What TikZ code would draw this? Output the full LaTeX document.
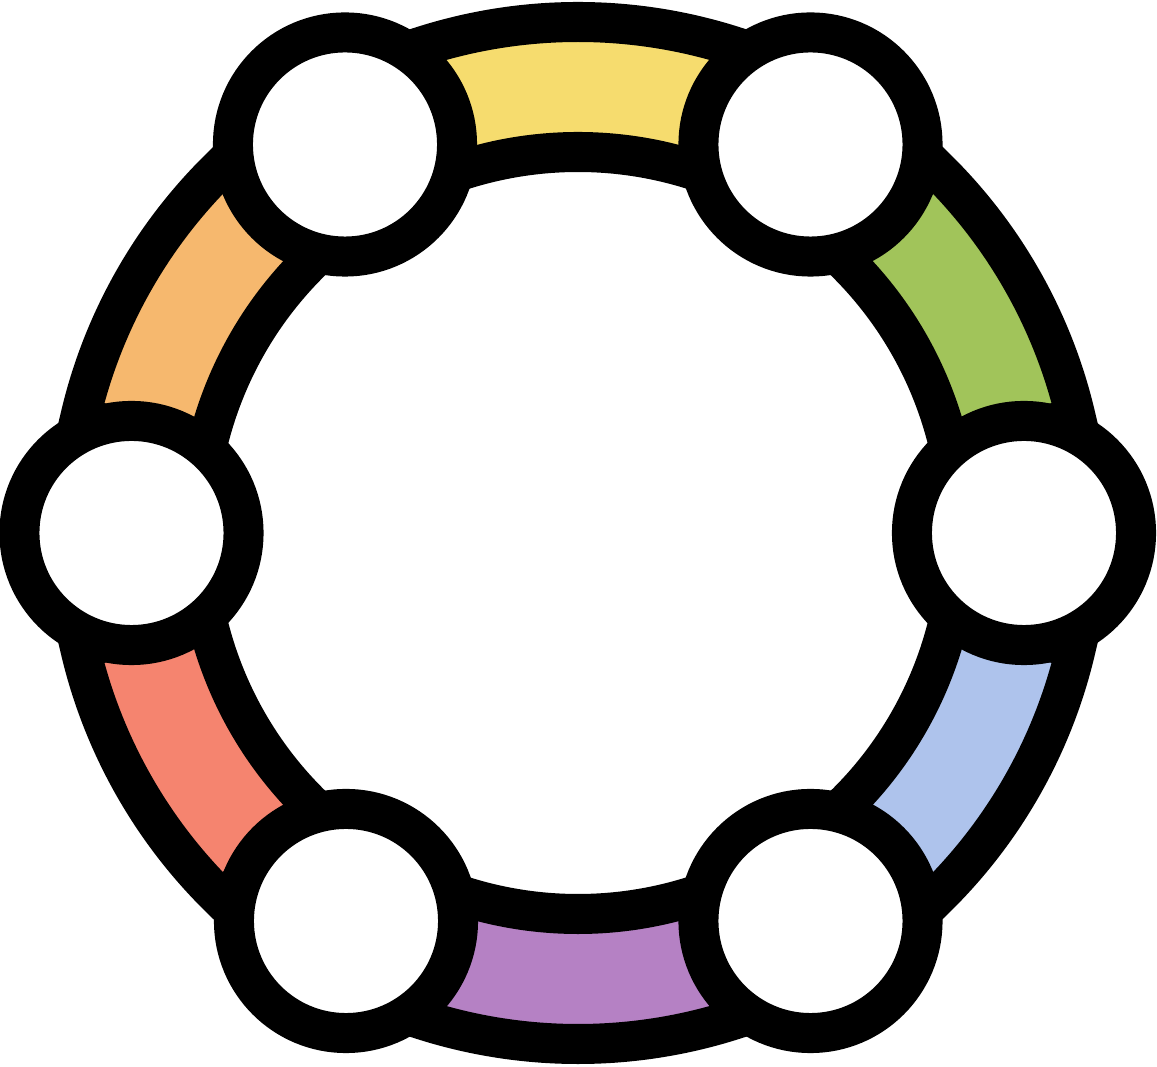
\documentclass[tikz,border=0pt]{standalone}
\usetikzlibrary{calc}
\definecolor{ringyellow}{HTML}{F6DC6E}
\definecolor{ringgreen}{HTML}{A1C45A}
\definecolor{ringblue}{HTML}{AEC3EC}
\definecolor{ringpurple}{HTML}{B581C4}
\definecolor{ringred}{HTML}{F5846F}
\definecolor{ringorange}{HTML}{F6B86E}
\tikzset{band/.style={draw=black,line width=4mm,line join=miter},
  hub/.style={circle,draw=black,fill=white,line width=4mm,minimum size=2.24cm,inner sep=0pt}}

\begin{document}
\begin{tikzpicture}[x=0.01cm,y=0.01cm]
\useasboundingbox (-578,-534) rectangle (579,533);
\coordinate (O) at (0,0);
% coloured pieces of the ring
\filldraw[band,fill=ringyellow] (72:511) arc[start angle=72,end angle=108,radius=511] -- (108:381) arc[start angle=108,end angle=72,radius=381] -- cycle;
\filldraw[band,fill=ringorange] (134:511) arc[start angle=134,end angle=167,radius=511] -- (167:381) arc[start angle=167,end angle=134,radius=381] -- cycle;
\filldraw[band,fill=ringred] (193:511) arc[start angle=193,end angle=226,radius=511] -- (226:381) arc[start angle=226,end angle=193,radius=381] -- cycle;
\filldraw[band,fill=ringpurple] (252:511) arc[start angle=252,end angle=288,radius=511] -- (288:381) arc[start angle=288,end angle=252,radius=381] -- cycle;
\filldraw[band,fill=ringblue] (314:511) arc[start angle=314,end angle=347,radius=511] -- (347:381) arc[start angle=347,end angle=314,radius=381] -- cycle;
\filldraw[band,fill=ringgreen] (13:511) arc[start angle=13,end angle=46,radius=511] -- (46:381) arc[start angle=46,end angle=13,radius=381] -- cycle;
% white hubs
\node[hub] (topL) at (-233,388.5) {};
\node[hub] (topR) at (232.5,388.5) {};
\node[hub] (right) at (446,0) {};
\node[hub] (botR) at (232.5,-388) {};
\node[hub] (botL) at (-232,-388) {};
\node[hub] (left) at (-446.5,0) {};
\end{tikzpicture}
\end{document}
